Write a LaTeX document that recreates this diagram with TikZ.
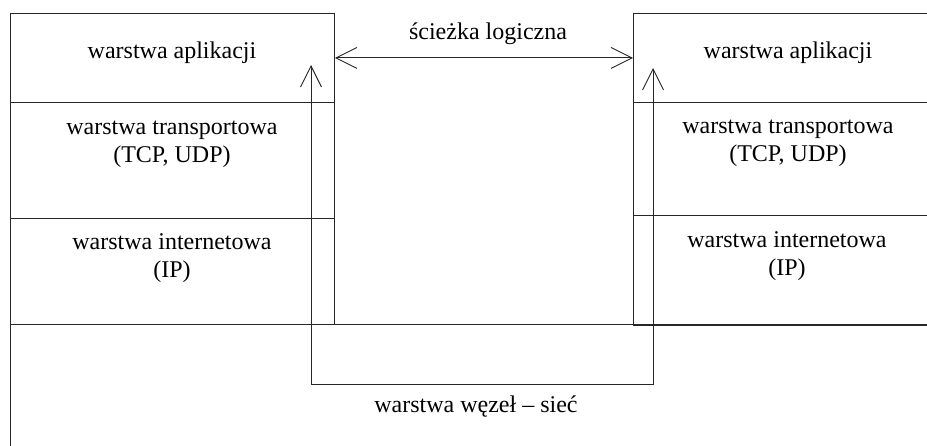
\documentclass[tikz,border=0pt]{standalone}
\usepackage{fontspec}
\setmainfont{Liberation Serif}
\usetikzlibrary{arrows.meta}
\begin{document}
\begin{tikzpicture}[x=1pt,y=-1pt,
  layer/.style={draw=black!85, line width=0.9pt, inner sep=0pt, anchor=north west},
  % multi-line labels sit on the baseline of their last line
  txt/.style={font=\fontsize{24}{28}\selectfont, inner sep=0pt, anchor=base, align=center},
  barb/.style={draw=black!85, line width=0.9pt,
    {Straight Barb[length=21pt,width=21pt]}-{Straight Barb[length=21pt,width=21pt]}}
]
\clip (0,0) rectangle (927,446);

% host A protocol stack
\node[layer, minimum width=324pt, minimum height=89pt]  (appL)   at (10,13)  {};
\node[layer, minimum width=324pt, minimum height=116pt] (transL) at (10,102) {};
\node[layer, minimum width=324pt, minimum height=106pt] (netL)   at (10,218) {};

% host B protocol stack (runs off the right edge)
\node[layer, minimum width=320pt, minimum height=89pt]  (appR)   at (633,13)  {};
\node[layer, minimum width=320pt, minimum height=113pt] (transR) at (633,102) {};
\node[layer, minimum width=320pt, minimum height=110pt] (netR)   at (633,215) {};

% shared host-to-network layer underneath
\node[layer, minimum width=940pt, minimum height=150pt] (link) at (10,324) {};

% layer labels
\node[txt] (appLt)   at (172,59)  {warstwa aplikacji};
\node[txt] (transLt) at (172,163) {warstwa transportowa\\(TCP, UDP)};
\node[txt] (netLt)   at (172,278) {warstwa internetowa\\(IP)};
\node[txt] (appRt)   at (788,59)  {warstwa aplikacji};
\node[txt] (transRt) at (788,162) {warstwa transportowa\\(TCP, UDP)};
\node[txt] (netRt)   at (787,276) {warstwa internetowa\\(IP)};

% logical peer-to-peer path
\draw[barb] (appL.east) -- (appR.west);
\node[txt] (logic) at (488,40) {ścieżka logiczna};

% physical path down through the stacks and across the network
\coordinate (tipL)  at (311,65);
\coordinate (cornL) at (311,384);
\coordinate (cornR) at (653,384);
\coordinate (tipR)  at (653,68);
\draw[barb] (tipL) -- (cornL) -- (cornR) -- (tipR);
\node[txt] (linkt) at (476,413) {warstwa węzeł – sieć};
\end{tikzpicture}
\end{document}
